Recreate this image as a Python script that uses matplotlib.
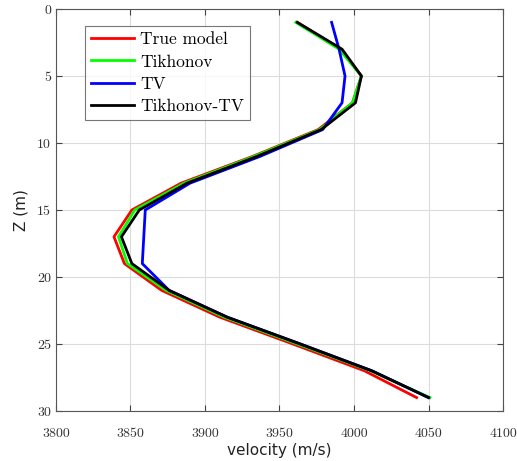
import matplotlib
matplotlib.use('Agg')
import matplotlib.pyplot as plt

z = [1, 3, 5, 7, 9, 11, 13, 15, 17, 19, 21, 23, 25, 27, 29]
true_model = [3962, 3991, 4005, 3999, 3976, 3932, 3884, 3851, 3839, 3846, 3871, 3910, 3959, 4007, 4042]
tikhonov = [3961, 3990, 4005, 3999, 3977, 3933, 3886, 3853, 3842, 3848, 3874, 3913, 3962, 4011, 4051]
tv = [3985, 3990, 3994, 3992, 3979, 3937, 3890, 3860, 3859, 3858, 3876, 3915, 3964, 4012, 4050]
tik_tv = [3962, 3992, 4005, 4001, 3978, 3935, 3888, 3856, 3844, 3851, 3876, 3915, 3964, 4012, 4050]

fig = plt.figure(figsize=(5.17, 4.61), dpi=100)
ax = fig.add_axes([0.108, 0.1085, 0.865, 0.872])

ax.plot(true_model, z, color='red', lw=2, label='True model')
ax.plot(tikhonov, z, color='#00ff00', lw=2, label='Tikhonov')
ax.plot(tv, z, color='blue', lw=2, label='TV')
ax.plot(tik_tv, z, color='black', lw=2, label='Tikhonov-TV')

ax.set_xlim(3800, 4100)
ax.set_ylim(30, 0)
ax.set_xticks(range(3800, 4101, 50))
ax.set_yticks(range(0, 31, 5))
ax.grid(True, color='#dcdcdc', lw=0.8)
ax.tick_params(direction='in', top=True, right=True, colors='#444444', labelcolor='#333333', length=4)
ax.tick_params(axis='x', pad=12)
for lab in ax.get_xticklabels() + ax.get_yticklabels():
    lab.set_fontfamily('cmr10')
    lab.set_fontsize(10)
for s in ax.spines.values():
    s.set_color('#555555')

ax.set_xlabel('velocity (m/s)', fontsize=11, color='#222222', labelpad=2)
ax.set_ylabel('Z (m)', fontsize=11, color='#222222', labelpad=6)

leg = ax.legend(loc='upper left', bbox_to_anchor=(0.065, 0.958), prop={'family': 'cmr10', 'size': 12.5},
                fancybox=False, edgecolor='#555555', handlelength=2.5, borderpad=0.35,
                labelspacing=0.4, handletextpad=0.35, borderaxespad=0)
leg.get_frame().set_linewidth(0.8)

fig.savefig('out.png', dpi=100)
